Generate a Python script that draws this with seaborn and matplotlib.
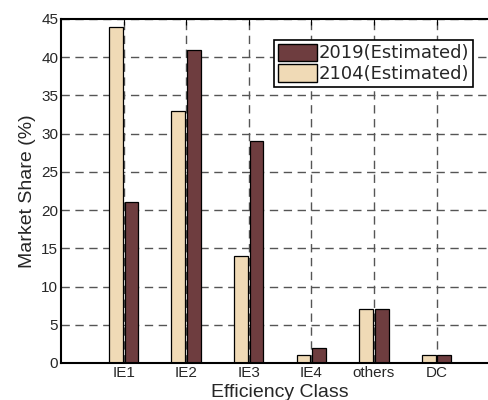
import pandas as pd
import matplotlib
matplotlib.use('Agg')
import matplotlib.pyplot as plt
import seaborn as sns
from matplotlib.patches import Patch

classes = ['IE1', 'IE2', 'IE3', 'IE4', 'others', 'DC']
share_2104 = [44, 33, 14, 1, 7, 1]
share_2019 = [21, 41, 29, 2, 7, 1]
series = ['2104(Estimated)', '2019(Estimated)']
colors = {'2104(Estimated)': '#F0DAB6', '2019(Estimated)': '#6E3D3F'}

df = pd.DataFrame({
    'Efficiency Class': classes * 2,
    'Share': share_2104 + share_2019,
    'Series': [series[0]] * len(classes) + [series[1]] * len(classes),
})

sns.set_style('white')
plt.rcParams['font.family'] = ['Liberation Sans', 'DejaVu Sans']

fig = plt.figure(figsize=(4.89, 4.0), dpi=100)
ax = fig.add_axes([0.1247, 0.0925, 0.896, 0.86])

sns.barplot(data=df, x='Efficiency Class', y='Share', hue='Series',
            hue_order=series, palette=colors, width=0.5, gap=0.12,
            edgecolor='black', linewidth=0.9, saturation=1, ax=ax, legend=False)

ax.set_xlim(-1, 6)
ax.set_ylim(0, 45)
ax.set_yticks(range(0, 46, 5))
ax.set_axisbelow(True)
ax.grid(True, color='#555555', linestyle=(0, (6, 4)), linewidth=1.0)

for side in ['left', 'bottom', 'top']:
    ax.spines[side].set_color('black')
    ax.spines[side].set_linewidth(1.5)
ax.spines['right'].set_visible(False)
ax.tick_params(axis='both', direction='in', top=True, labelsize=11,
               length=4, color='black', pad=2)

ax.set_xlabel('Efficiency Class', fontsize=14, labelpad=3)
ax.set_ylabel('Market Share (%)', fontsize=14, labelpad=4)

handles = [Patch(facecolor=colors[series[1]], edgecolor='black', label=series[1]),
           Patch(facecolor=colors[series[0]], edgecolor='black', label=series[0])]
leg = ax.legend(handles=handles, loc='upper left', bbox_to_anchor=(0.486, 0.939),
                prop={'family': 'DejaVu Sans', 'size': 13},
                frameon=True, fancybox=False, framealpha=1,
                edgecolor='black', handlelength=2.2, handleheight=1.1,
                handletextpad=0.1, borderpad=0.2, labelspacing=0.1,
                borderaxespad=0)
leg.get_frame().set_linewidth(1.2)

plt.savefig('out.png', dpi=100)
